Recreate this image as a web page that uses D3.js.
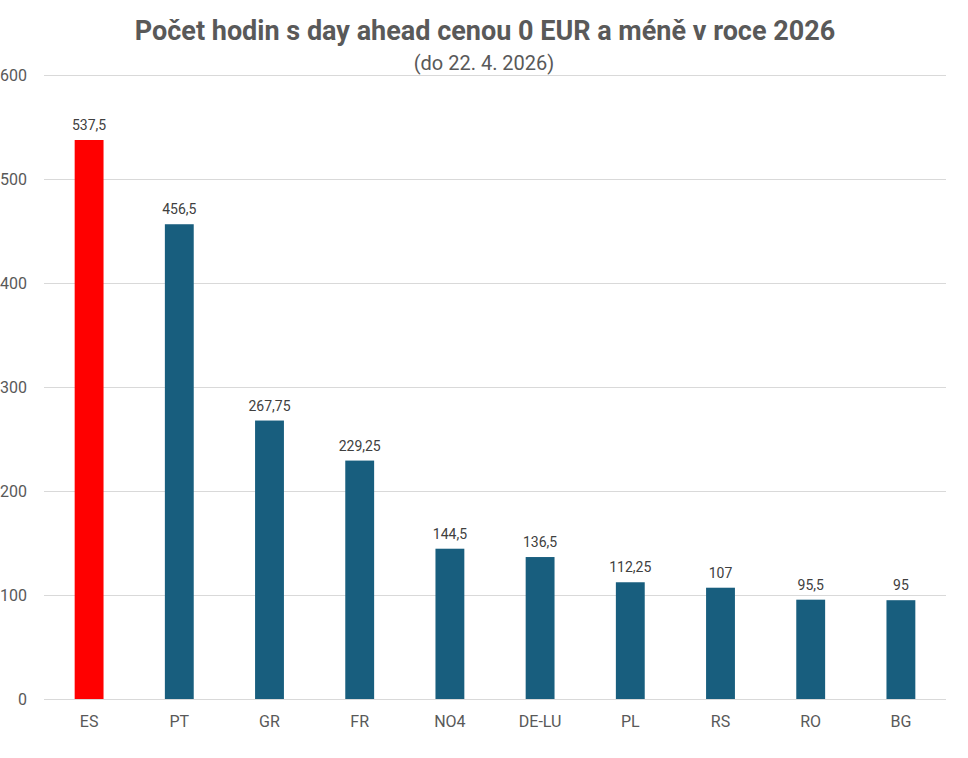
<!DOCTYPE html>
<html>
<head>
<meta charset="utf-8">
<script src="https://cdn.jsdelivr.net/npm/d3@7"></script>
<style>
  body { margin: 0; background: #fff; }
  text { font-family: Roboto, "Noto Sans", sans-serif; }
</style>
</head>
<body>
<div id="chart"></div>
<script>
// Data
const categories = ["ES", "PT", "GR", "FR", "NO4", "DE-LU", "PL", "RS", "RO", "BG"];
const values = [537.5, 456.5, 267.75, 229.25, 144.5, 136.5, 112.25, 107, 95.5, 95];
const yTicks = [0, 100, 200, 300, 400, 500, 600];
const highlight = "ES";

const W = 968, H = 758;
const plot = { left: 44, right: 946, top: 75, bottom: 699 };

const svg = d3.select("#chart").append("svg")
    .attr("width", W)
    .attr("height", H);

const x = d3.scaleBand()
    .domain(categories)
    .range([plot.left, plot.right])
    .paddingInner(0.68)
    .paddingOuter(0.34);

const y = d3.scaleLinear()
    .domain([0, 600])
    .range([plot.bottom, plot.top]);

// gridlines
svg.append("g")
    .selectAll("line")
    .data(yTicks)
    .enter().append("line")
    .attr("x1", plot.left)
    .attr("x2", plot.right)
    .attr("y1", d => y(d) + 0.5)
    .attr("y2", d => y(d) + 0.5)
    .attr("stroke", "#d9d9d9")
    .attr("stroke-width", 1);

// y tick labels
svg.append("g")
    .selectAll("text")
    .data(yTicks)
    .enter().append("text")
    .attr("x", 27)
    .attr("y", d => y(d))
    .attr("dy", "0.35em")
    .attr("text-anchor", "end")
    .attr("font-size", 16)
    .attr("fill", "#595959")
    .text(d => d);

// bars
svg.append("g")
    .selectAll("rect")
    .data(categories)
    .enter().append("rect")
    .attr("x", d => x(d))
    .attr("width", x.bandwidth())
    .attr("y", (d, i) => y(values[i]))
    .attr("height", (d, i) => y(0) - y(values[i]))
    .attr("fill", d => d === highlight ? "#ff0000" : "#185e7e");

// value labels
const fmt = v => String(v).replace(".", ",");
svg.append("g")
    .selectAll("text")
    .data(categories)
    .enter().append("text")
    .attr("x", d => x(d) + x.bandwidth() / 2)
    .attr("y", (d, i) => y(values[i]) - 10)
    .attr("text-anchor", "middle")
    .attr("font-size", 14)
    .attr("fill", "#404040")
    .text((d, i) => fmt(values[i]));

// x category labels
svg.append("g")
    .selectAll("text")
    .data(categories)
    .enter().append("text")
    .attr("x", d => x(d) + x.bandwidth() / 2)
    .attr("y", 727)
    .attr("text-anchor", "middle")
    .attr("font-size", 16)
    .attr("fill", "#595959")
    .text(d => d);

// title
svg.append("text")
    .attr("x", 485)
    .attr("y", 40)
    .attr("text-anchor", "middle")
    .attr("font-size", 27)
    .attr("font-weight", "bold")
    .attr("fill", "#595959")
    .text("Počet hodin s day ahead cenou 0 EUR a méně v roce 2026");

svg.append("text")
    .attr("x", 484)
    .attr("y", 70)
    .attr("text-anchor", "middle")
    .attr("font-size", 20)
    .attr("fill", "#595959")
    .text("(do 22. 4. 2026)");
</script>
</body>
</html>
